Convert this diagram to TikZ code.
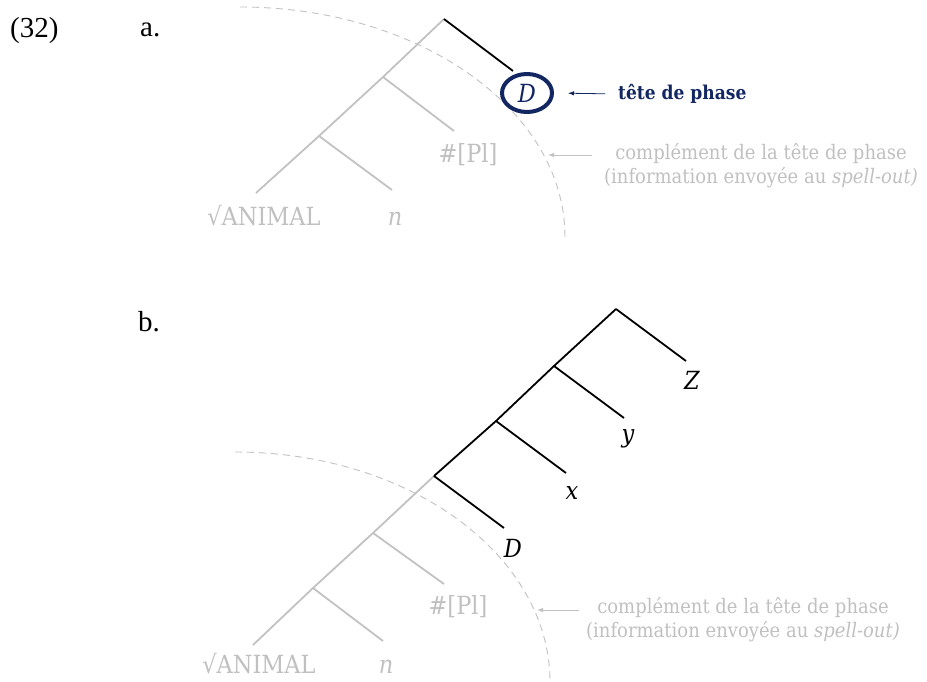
\documentclass[tikz,border=0pt]{standalone}
\usepackage{fontspec}
\setmainfont{DejaVu Serif}[FakeStretch=0.9]
\newfontfamily\exfont{Liberation Serif}
\usetikzlibrary{arrows.meta,calc,shapes.geometric}
\definecolor{ink}{RGB}{0,0,0}
\definecolor{shadegray}{RGB}{194,194,194}
\definecolor{notegray}{RGB}{192,192,192}
\definecolor{headnavy}{RGB}{18,38,98}
\tikzset{
	branch/.style={line width=1.8pt,draw=ink},
	fadedbranch/.style={line width=1.8pt,draw=shadegray},
	phaseline/.style={dash pattern=on 7pt off 5pt,line width=0.9pt,draw=shadegray},
	leaf/.style={font=\fontsize{25}{28}\selectfont,text=ink,inner sep=0pt},
	fadedleaf/.style={leaf,text=notegray},
	varleaf/.style={leaf,font=\fontsize{25}{28}\selectfont\itshape},
	note/.style={font=\fontsize{20}{24}\selectfont,text=notegray,align=center,inner sep=0pt},
	pointer/.style={-{Latex[length=6pt,width=4.5pt]},line width=0.8pt},
	exlabel/.style={font=\exfont\fontsize{29}{32}\selectfont,inner sep=0pt,anchor=base west},
}

\begin{document}
\begin{tikzpicture}[x=1pt,y=1pt]
	\useasboundingbox (0,0) rectangle (927,-681);
	
	\node[exlabel] (num) at (10,-37) {(32)};
	\node[exlabel] (exa) at (140,-36) {a.};
	\node[exlabel] (exb) at (138,-331) {b.};
	
	% (a) phase boundary and tree
	\draw[phaseline] (240,-7) arc[start angle=90,end angle=0,x radius=325,y radius=230];
	
	\coordinate (a-top) at (444,-19);
	\coordinate (a-n1) at (383,-77);
	\coordinate (a-n2) at (319,-136);
	\coordinate (a-animal-end) at (256,-193);
	\coordinate (a-n-end) at (392,-190);
	\coordinate (a-pl-end) at (454,-131);
	\coordinate (a-d-end) at (513,-71);
	
	\draw[fadedbranch] (a-top) -- (a-n1) -- (a-n2) -- (a-animal-end);
	\draw[fadedbranch] (a-n1) -- (a-pl-end);
	\draw[fadedbranch] (a-n2) -- (a-n-end);
	\draw[branch] (a-top) -- (a-d-end);
	
	\node[ellipse,draw=headnavy,line width=4pt,minimum width=50,minimum height=38,
		inner sep=0pt,font=\fontsize{25}{28}\selectfont\itshape,text=headnavy]
		(a-head) at (527,-93) {D};
	\node[fadedleaf,anchor=base] (a-animal) at (264,-225) {√ANIMAL};
	\node[fadedleaf,anchor=base] (a-n) at (395,-225) {\itshape n};
	\node[fadedleaf] (a-pl) at (468,-155) {\#[Pl]};
	
	\node[anchor=west,inner sep=0pt,text=headnavy,font=\fontsize{19}{22}\selectfont\bfseries]
		(a-headnote) at (618,-94) {tête de phase};
	\draw[pointer,headnavy,shorten <=13pt,shorten >=14pt] (a-headnote.west) -- (a-head.east);
	
	\coordinate (a-arc) at (548,-155);
	\node[note] (a-note) at (761,-166)
		{complément de la tête de phase\\(information envoyée au \textit{spell-out)}};
	\draw[pointer,draw=shadegray,fill=shadegray,shorten <=12pt] (a-note.west |- a-arc) -- (a-arc);
	
	% (b) phase boundary and tree
	\draw[phaseline] (235,-452) arc[start angle=90,end angle=0,x radius=315,y radius=230];
	
	\coordinate (b-top) at (616,-309);
	\coordinate (b-n1) at (554,-366);
	\coordinate (b-n2) at (496,-421);
	\coordinate (b-n3) at (434,-476);
	\coordinate (b-n4) at (373,-533);
	\coordinate (b-n5) at (313,-588);
	\coordinate (b-z-end) at (686,-361);
	\coordinate (b-y-end) at (624,-418);
	\coordinate (b-x-end) at (566,-473);
	\coordinate (b-d-end) at (504,-528);
	\coordinate (b-pl-end) at (444,-584);
	\coordinate (b-n-end) at (383,-641);
	\coordinate (b-animal-end) at (253,-645);
	
	\draw[fadedbranch] (b-n3) -- (b-n4) -- (b-n5) -- (b-animal-end);
	\draw[fadedbranch] (b-n4) -- (b-pl-end);
	\draw[fadedbranch] (b-n5) -- (b-n-end);
	\draw[branch] (b-top) -- (b-n1) -- (b-n2) -- (b-n3);
	\draw[branch] (b-top) -- (b-z-end);
	\draw[branch] (b-n1) -- (b-y-end);
	\draw[branch] (b-n2) -- (b-x-end);
	\draw[branch] (b-n3) -- (b-d-end);
	
	\node[varleaf] (b-z) at (692,-380) {Z};
	\node[varleaf] (b-y) at (628,-439) {y};
	\node[varleaf] (b-x) at (572,-493) {x};
	\node[varleaf] (b-d) at (513,-548) {D};
	\node[fadedleaf,anchor=base] (b-animal) at (259,-673) {√ANIMAL};
	\node[fadedleaf,anchor=base] (b-n) at (386,-673) {\itshape n};
	\node[fadedleaf] (b-pl) at (458,-607) {\#[Pl]};
	
	\coordinate (b-arc) at (537,-610);
	\node[note] (b-note) at (743,-620)
		{complément de la tête de phase\\(information envoyée au \textit{spell-out)}};
	\draw[pointer,draw=shadegray,fill=shadegray,shorten <=7pt] (b-note.west |- b-arc) -- (b-arc);
	
\end{tikzpicture}
\end{document}
